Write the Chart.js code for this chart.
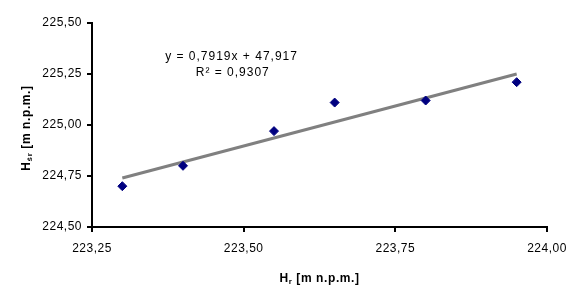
<!DOCTYPE html>
<html>
<head>
<meta charset="utf-8">
<script src="https://cdn.jsdelivr.net/npm/chart.js@4/dist/chart.umd.min.js"></script>
<style>
html,body{margin:0;padding:0;background:#fff;}
#wrap{width:584px;height:302px;position:relative;}
</style>
</head>
<body>
<div id="wrap"><canvas id="c" width="584" height="302"></canvas></div>
<script>
// Observed data points (H_r, H_śr)
const hr = [223.30, 223.40, 223.55, 223.65, 223.80, 223.95];
const hsr = [224.70, 224.80, 224.97, 225.11, 225.12, 225.21];
// Trend line endpoints
const trendX = [223.30, 223.95];
const trendY = [224.74, 225.25];
// Tick labels
const xTicks = [223.25, 223.50, 223.75, 224.00];
const yTicks = [224.50, 224.75, 225.00, 225.25, 225.50];
const eqLines = ['y = 0,7919x + 47,917', 'R² = 0,9307'];
const xTitle = ['H', 'r', ' [m n.p.m.]'];
const yTitle = ['H', 'śr', ' [m n.p.m.]'];

const FONT = '"Liberation Sans", Arial, sans-serif';
const fmt = v => v.toFixed(2).replace('.', ',');

const spacingPlugin = {
  id: 'spacing',
  beforeLayout(chart) { chart.ctx.letterSpacing = '0.5px'; },
  beforeDraw(chart) { chart.ctx.letterSpacing = '0.5px'; }
};

const textPlugin = {
  id: 'texts',
  afterDraw(chart) {
    const ctx = chart.ctx;
    const xs = chart.scales.x, ys = chart.scales.y;
    const area = chart.chartArea;
    ctx.save();
    ctx.fillStyle = '#000';
    // equation
    ctx.letterSpacing = '1px';
    ctx.font = '12px ' + FONT;
    ctx.textAlign = 'center';
    ctx.textBaseline = 'middle';
    ctx.fillText(eqLines[0], xs.getPixelForValue(223.48), ys.getPixelForValue(225.337));
    ctx.fillText(eqLines[1], xs.getPixelForValue(223.482), ys.getPixelForValue(225.256));
    // axis title helper with subscript
    function drawTitle(parts) {
      ctx.letterSpacing = '0.6px';
      ctx.font = 'bold 12px ' + FONT;
      const w0 = ctx.measureText(parts[0]).width;
      const w2 = ctx.measureText(parts[2]).width;
      ctx.font = 'bold 8px ' + FONT;
      const w1 = ctx.measureText(parts[1]).width;
      const total = w0 + w1 + w2;
      let x = -total / 2;
      ctx.textAlign = 'left';
      ctx.textBaseline = 'alphabetic';
      ctx.font = 'bold 12px ' + FONT;
      ctx.fillText(parts[0], x, 4);
      x += w0;
      ctx.font = 'bold 8px ' + FONT;
      ctx.fillText(parts[1], x, 6);
      x += w1;
      ctx.font = 'bold 12px ' + FONT;
      ctx.fillText(parts[2], x, 4);
    }
    ctx.save();
    ctx.translate((area.left + area.right) / 2, 278);
    drawTitle(xTitle);
    ctx.restore();
    ctx.save();
    ctx.translate(26, (area.top + area.bottom) / 2 + 3);
    ctx.rotate(-Math.PI / 2);
    drawTitle(yTitle);
    ctx.restore();
    ctx.restore();
  }
};

new Chart(document.getElementById('c'), {
  type: 'scatter',
  data: {
    datasets: [
      {
        label: 'trend',
        type: 'line',
        data: trendX.map((x, i) => ({x, y: trendY[i]})),
        borderColor: '#808080',
        borderWidth: 3,
        pointRadius: 0,
        fill: false,
        order: 2
      },
      {
        label: 'data',
        data: hr.map((x, i) => ({x, y: hsr[i]})),
        pointStyle: 'rectRot',
        pointRadius: 4.5,
        backgroundColor: '#000080',
        borderColor: '#000080',
        borderWidth: 1,
        order: 1
      }
    ]
  },
  options: {
    responsive: false,
    animation: false,
    layout: { padding: { left: 0, right: 37, top: 23, bottom: 0 } },
    plugins: { legend: { display: false }, tooltip: { enabled: false } },
    scales: {
      x: {
        type: 'linear',
        min: 223.25, max: 224.00,
        afterBuildTicks: s => { s.ticks = xTicks.map(v => ({value: v})); },
        afterFit: s => { s.height = 75; },
        border: { color: '#000', width: 2 },
        grid: { drawOnChartArea: false, drawTicks: true, tickLength: 5, color: '#000', lineWidth: 2 },
        ticks: { color: '#000', font: { family: FONT, size: 12 }, padding: 9, maxRotation: 0, callback: v => fmt(v) }
      },
      y: {
        type: 'linear',
        min: 224.50, max: 225.50,
        afterBuildTicks: s => { s.ticks = yTicks.map(v => ({value: v})); },
        afterFit: s => { s.width = 92; },
        border: { color: '#000', width: 2 },
        grid: { drawOnChartArea: false, drawTicks: true, tickLength: 5, color: '#000', lineWidth: 2 },
        ticks: { color: '#000', font: { family: FONT, size: 12 }, padding: 5, callback: v => fmt(v) }
      }
    }
  },
  plugins: [spacingPlugin, textPlugin]
});
</script>
</body>
</html>
